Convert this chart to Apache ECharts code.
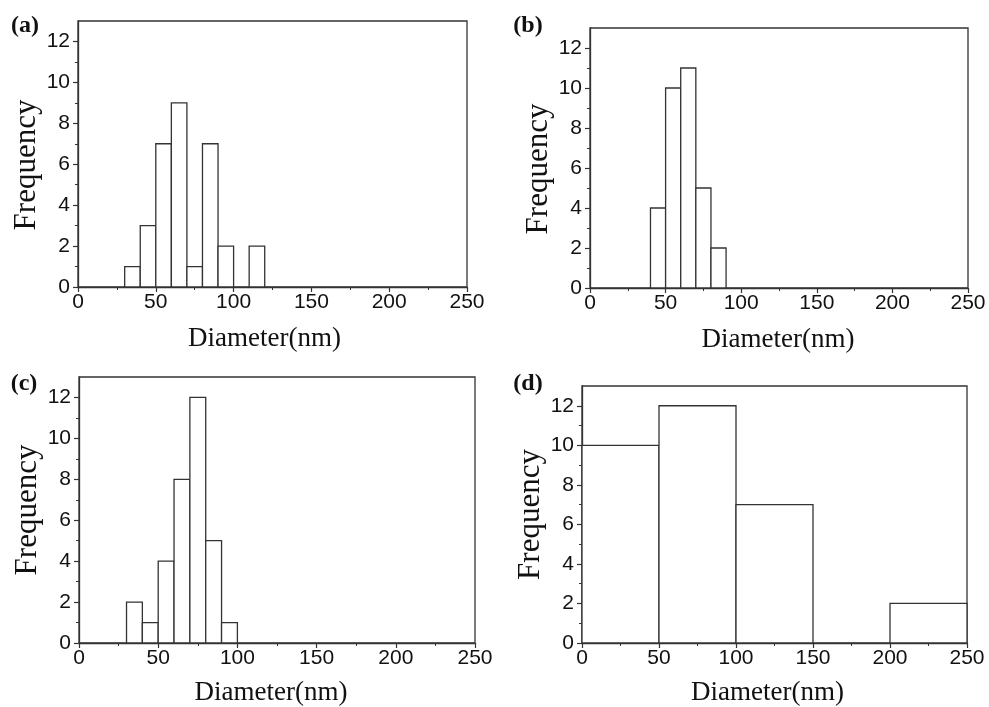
<!DOCTYPE html>
<html>
<head>
<meta charset="utf-8">
<script src="https://cdn.jsdelivr.net/npm/echarts@6/dist/echarts.min.js"></script>
<style>
  html, body { margin: 0; padding: 0; background: #ffffff; }
  #chart { width: 989px; height: 707px; }
</style>
</head>
<body>
<div id="chart"></div>
<script>
// Histogram bins: left edge of each bin, bin width and counts for every panel
const binStartsA = [30, 40, 50, 60, 70, 80, 90, 100, 110];
const countsA    = [1, 3, 7, 9, 1, 7, 2, 0, 2];
const binWidthA  = 10;

const binStartsB = [40, 50, 60, 70, 80];
const countsB    = [4, 10, 11, 5, 2];
const binWidthB  = 10;

const binStartsC = [30, 40, 50, 60, 70, 80, 90];
const countsC    = [2, 1, 4, 8, 12, 5, 1];
const binWidthC  = 10;

const binStartsD = [0, 50, 100, 150, 200];
const countsD    = [10, 12, 7, 0, 2];
const binWidthD  = 50;

const panelLabels = ['(a)', '(b)', '(c)', '(d)'];
const xTitle = 'Diameter(nm)';
const yTitle = 'Frequency';
const xMin = 0, xMax = 250, xStep = 50;
const yMin = 0, yMax = 13;
const yMajorTicks = [0, 2, 4, 6, 8, 10, 12];
const yMinorTicks = [1, 3, 5, 7, 9, 11];

const panels = [
  { starts: binStartsA, counts: countsA, width: binWidthA },
  { starts: binStartsB, counts: countsB, width: binWidthB },
  { starts: binStartsC, counts: countsC, width: binWidthC },
  { starts: binStartsD, counts: countsD, width: binWidthD }
];

// Layout of the four plot areas (pixels), title offsets and panel tags
const layout = [
  { left: 78,  top: 21,  width: 389, height: 266, tag: [25, 26],  yGap: 36, yShift: 22, xGap: 38, xShift: 16 },
  { left: 590, top: 28,  width: 378, height: 260, tag: [528, 26], yGap: 36, yShift: 22, xGap: 38, xShift: 2 },
  { left: 79,  top: 377, width: 396, height: 270, tag: [24, 384], yGap: 36, yShift: 0,  xGap: 36, xShift: 12 },
  { left: 582, top: 386, width: 385, height: 263, tag: [528, 384], yGap: 36, yShift: 0, xGap: 36, xShift: 14 }
];

const INK = '#333333';
const SANS = '"Liberation Sans", Arial, sans-serif';
const SERIF = '"Liberation Serif", "Times New Roman", serif';

function renderBin(params, api) {
  const count = api.value(2);
  if (!count) return null;
  const p0 = api.coord([api.value(0), 0]);
  const p1 = api.coord([api.value(1), count]);
  return {
    type: 'rect',
    shape: { x: p0[0], y: p1[1], width: p1[0] - p0[0], height: p0[1] - p1[1] },
    style: { fill: '#ffffff', stroke: INK, lineWidth: 1.3 }
  };
}

const grid = [], xAxis = [], yAxis = [], series = [], graphic = [];

panels.forEach((p, i) => {
  const L = layout[i];
  grid.push({
    left: L.left, top: L.top, width: L.width, height: L.height,
    show: true, borderColor: INK, borderWidth: 1.3, backgroundColor: 'transparent'
  });
  xAxis.push({
    type: 'value', gridIndex: i, min: xMin, max: xMax, interval: xStep,
    name: xTitle, nameLocation: 'middle', nameGap: L.xGap,
    nameTextStyle: { fontFamily: SERIF, fontSize: 27, color: '#111', padding: [0, L.xShift, 0, 0] },
    axisLine: { show: true, lineStyle: { color: INK, width: 1.3 } },
    axisTick: { show: true, inside: false, length: 5, lineStyle: { color: INK, width: 1.2 } },
    minorTick: { show: true, splitNumber: 2, length: 3, lineStyle: { color: INK, width: 1 } },
    splitLine: { show: false },
    axisLabel: { fontFamily: SANS, fontSize: 21, color: '#111', margin: 5 }
  });
  // main value axis: labels and long ticks
  yAxis.push({
    type: 'value', gridIndex: i, position: 'left', min: yMin, max: yMax,
    name: yTitle, nameLocation: 'middle', nameGap: L.yGap, nameRotate: 90,
    nameTextStyle: { fontFamily: SERIF, fontSize: 31, color: '#111', padding: [0, L.yShift, 0, 0] },
    axisLine: { show: true, lineStyle: { color: INK, width: 1.3 } },
    axisTick: { show: true, inside: false, length: 5, customValues: yMajorTicks,
                lineStyle: { color: INK, width: 1.2 } },
    splitLine: { show: false },
    axisLabel: { fontFamily: SANS, fontSize: 21, color: '#111', margin: 8, customValues: yMajorTicks }
  });
  // companion axis on the same side carrying the short in-between ticks
  yAxis.push({
    type: 'value', gridIndex: i, position: 'left', offset: 0, min: yMin, max: yMax,
    axisLine: { show: false },
    axisTick: { show: true, inside: false, length: 3, customValues: yMinorTicks,
                lineStyle: { color: INK, width: 1 } },
    axisLabel: { show: false },
    splitLine: { show: false }
  });
  series.push({
    type: 'custom', xAxisIndex: i, yAxisIndex: i * 2,
    renderItem: renderBin,
    encode: { x: [0, 1], y: 2 },
    data: p.starts.map((s, k) => [s, s + p.width, p.counts[k]]),
    silent: true, clip: false
  });
  graphic.push({
    type: 'text', x: L.tag[0], y: L.tag[1],
    style: {
      text: panelLabels[i], fontFamily: SERIF, fontWeight: 'bold', fontSize: 24,
      fill: '#111', align: 'center', verticalAlign: 'middle'
    }
  });
});

const chart = echarts.init(document.getElementById('chart'), null, { renderer: 'canvas' });
chart.setOption({
  animation: false,
  backgroundColor: '#ffffff',
  grid, xAxis, yAxis, series, graphic
});
</script>
</body>
</html>
